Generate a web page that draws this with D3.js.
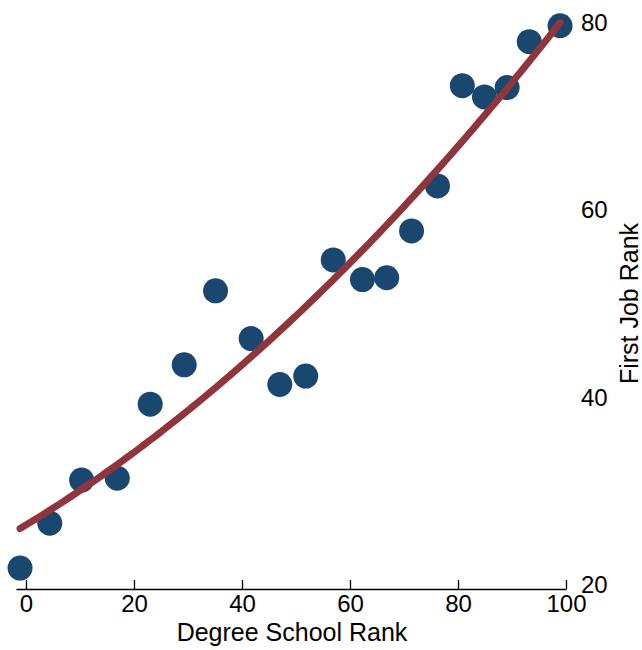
<!DOCTYPE html>
<html>
<head>
<meta charset="utf-8">
<script src="https://cdn.jsdelivr.net/npm/d3@7"></script>
<style>
  html, body { margin: 0; padding: 0; background: #fff; }
  svg text { font-family: "Liberation Sans", Arial, Helvetica, sans-serif; fill: #000; }
</style>
</head>
<body>
<svg id="chart" width="642" height="650"></svg>
<script>
// Binned averages: degree school rank vs. first job rank
const degreeRank = [-1.1, 4.4, 10.3, 16.9, 23.0, 29.3, 35.1, 41.7, 47.0, 51.8,
                    56.9, 62.3, 66.8, 71.4, 76.2, 80.8, 84.9, 89.1, 93.2, 98.9];
const jobRank    = [21.7, 26.5, 31.1, 31.3, 39.2, 43.4, 51.3, 46.2, 41.3, 42.2,
                    54.6, 52.5, 52.7, 57.7, 62.5, 73.2, 72.0, 73.0, 77.9, 79.6];
const xTicks = [0, 20, 40, 60, 80, 100];
const yTicks = [20, 40, 60, 80];
const xTitle = "Degree School Rank";
const yTitle = "First Job Rank";

const svg = d3.select("#chart");

const x = d3.scaleLinear().domain([-1.85, 100]).range([16, 566]);
const y = d3.scaleLinear().domain([19.47, 80]).range([589, 22]);

const points = degreeRank.map((d, i) => ({ x: d, y: jobRank[i] }));

// Quadratic least-squares fit of job rank on degree rank
function quadFit(pts) {
  let s = [0, 0, 0, 0, 0], t = [0, 0, 0];
  pts.forEach(p => {
    let xp = 1;
    for (let k = 0; k < 5; k++) { s[k] += xp; if (k < 3) t[k] += xp * p.y; xp *= p.x; }
  });
  const A = [[s[0], s[1], s[2], t[0]], [s[1], s[2], s[3], t[1]], [s[2], s[3], s[4], t[2]]];
  for (let i = 0; i < 3; i++) {
    for (let j = i + 1; j < 3; j++) {
      const f = A[j][i] / A[i][i];
      for (let k = i; k < 4; k++) A[j][k] -= f * A[i][k];
    }
  }
  const c = [0, 0, 0];
  for (let i = 2; i >= 0; i--) {
    let v = A[i][3];
    for (let k = i + 1; k < 3; k++) v -= A[i][k] * c[k];
    c[i] = v / A[i][i];
  }
  return xv => c[0] + c[1] * xv + c[2] * xv * xv;
}
const fit = quadFit(points);
const [xMin, xMax] = d3.extent(degreeRank);
const fitLine = d3.range(0, 101).map(i => {
  const xv = xMin + (xMax - xMin) * i / 100;
  return { x: xv, y: fit(xv) };
});

// X axis (ticks point inward)
const xAxis = svg.append("g")
  .attr("transform", "translate(0,589)")
  .call(d3.axisBottom(x).tickValues(xTicks).tickSizeInner(-9).tickSizeOuter(0).tickPadding(6));
xAxis.select(".domain").attr("stroke", "#000").attr("stroke-width", 1.3);
xAxis.selectAll(".tick line").attr("stroke", "#000").attr("stroke-width", 1.3);
xAxis.selectAll(".tick text").attr("font-size", 24).attr("fill", "#000")
  .style("font-family", "'Liberation Sans', Arial, sans-serif");

// Y axis on the right, labels only
const yAxis = svg.append("g")
  .attr("transform", "translate(575,0)")
  .call(d3.axisRight(y).tickValues(yTicks).tickSize(0).tickPadding(6));
yAxis.select(".domain").remove();
yAxis.selectAll(".tick text").attr("font-size", 24).attr("dy", "0.36em").attr("fill", "#000")
  .style("font-family", "'Liberation Sans', Arial, sans-serif");

// Axis titles
svg.append("text")
  .attr("x", 292).attr("y", 641)
  .attr("text-anchor", "middle")
  .attr("font-size", 25)
  .text(xTitle);

svg.append("text")
  .attr("transform", "translate(638,303.5) rotate(-90)")
  .attr("text-anchor", "middle")
  .attr("font-size", 25)
  .text(yTitle);

// Scatter points
svg.append("g").selectAll("circle")
  .data(points)
  .join("circle")
  .attr("cx", d => x(d.x))
  .attr("cy", d => y(d.y))
  .attr("r", 12.5)
  .attr("fill", "#1a476f");

// Fitted curve
svg.append("path")
  .datum(fitLine)
  .attr("fill", "none")
  .attr("stroke", "#90353b")
  .attr("stroke-width", 7)
  .attr("stroke-linecap", "round")
  .attr("d", d3.line().x(d => x(d.x)).y(d => y(d.y)));
</script>
</body>
</html>
